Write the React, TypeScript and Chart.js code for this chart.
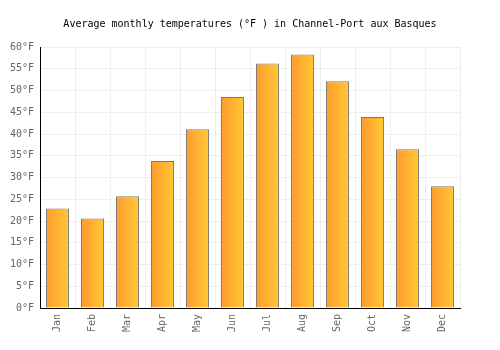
import React, { useEffect, useRef } from "react";
import { Chart, registerables } from "chart.js";

Chart.register(...registerables);

const months = ["Jan", "Feb", "Mar", "Apr", "May", "Jun", "Jul", "Aug", "Sep", "Oct", "Nov", "Dec"];
const temperaturesF = [22.9, 20.6, 25.7, 33.8, 41.1, 48.5, 56.2, 58.3, 52.1, 43.9, 36.5, 28.0];
const titleText = "Average monthly temperatures (°F ) in Channel-Port aux Basques";

const FONT = "'DejaVu Sans Mono', monospace";

const gradientPlugin = {
  id: "barGradient",
  beforeDatasetsDraw(chart: any) {
    const ctx = chart.ctx;
    chart.data.datasets.forEach((_: any, di: number) => {
      const meta = chart.getDatasetMeta(di);
      meta.data.forEach((el: any) => {
        const left = el.x - el.width / 2;
        const right = el.x + el.width / 2;
        const g = ctx.createLinearGradient(left, 0, right, 0);
        g.addColorStop(0, "#ff9a2e");
        g.addColorStop(1, "#ffc935");
        el.options = Object.assign(Object.create(Object.getPrototypeOf(el.options)), el.options, {
          backgroundColor: g,
        });
      });
    });
  },
};

export default function App() {
  const ref = useRef<HTMLCanvasElement | null>(null);
  useEffect(() => {
    document.body.style.margin = "0";
    const chart = new Chart(ref.current!, {
      type: "bar",
      data: {
        labels: months,
        datasets: [
          {
            data: temperaturesF,
            backgroundColor: () => "#ffb030",
            borderColor: "#777777",
            borderWidth: 1,
            barPercentage: 0.66,
            categoryPercentage: 1,
          },
        ],
      },
      plugins: [gradientPlugin],
      options: {
        animation: false,
        responsive: false,
        maintainAspectRatio: false,
        layout: { padding: { left: 0, right: 0, top: 0, bottom: 0 } },
        plugins: {
          legend: { display: false },
          tooltip: { enabled: false },
          title: {
            display: true,
            text: titleText,
            color: "#000",
            font: { family: FONT, size: 10, weight: "normal" },
            padding: { top: 18, bottom: 17 },
          },
        },
        scales: {
          x: {
            grid: { color: "#eeeeee", drawTicks: false, offset: true },
            border: { color: "#000", width: 1 },
            ticks: {
              color: "#666",
              font: { family: FONT, size: 10 },
              maxRotation: 90,
              minRotation: 90,
              padding: 6,
            },
            afterFit: (s: any) => {
              s.height = 42;
            },
          },
          y: {
            min: 0,
            max: 60,
            grid: { color: "#eeeeee", drawTicks: false },
            border: { color: "#000", width: 1 },
            ticks: {
              stepSize: 5,
              color: "#666",
              font: { family: FONT, size: 10 },
              padding: 6,
              callback: (v: any) => v + "°F",
            },
            afterFit: (s: any) => {
              s.width = 40;
            },
          },
          yRight: {
            position: "right",
            min: 0,
            max: 1,
            grid: { display: false, drawTicks: false },
            border: { display: false },
            ticks: { display: false },
            afterFit: (s: any) => {
              s.width = 40;
            },
          },
        },
      },
    });
    return () => chart.destroy();
  }, []);
  return (
    <div style={{ width: 500, height: 350 }}>
      <canvas ref={ref} width={500} height={350} />
    </div>
  );
}
